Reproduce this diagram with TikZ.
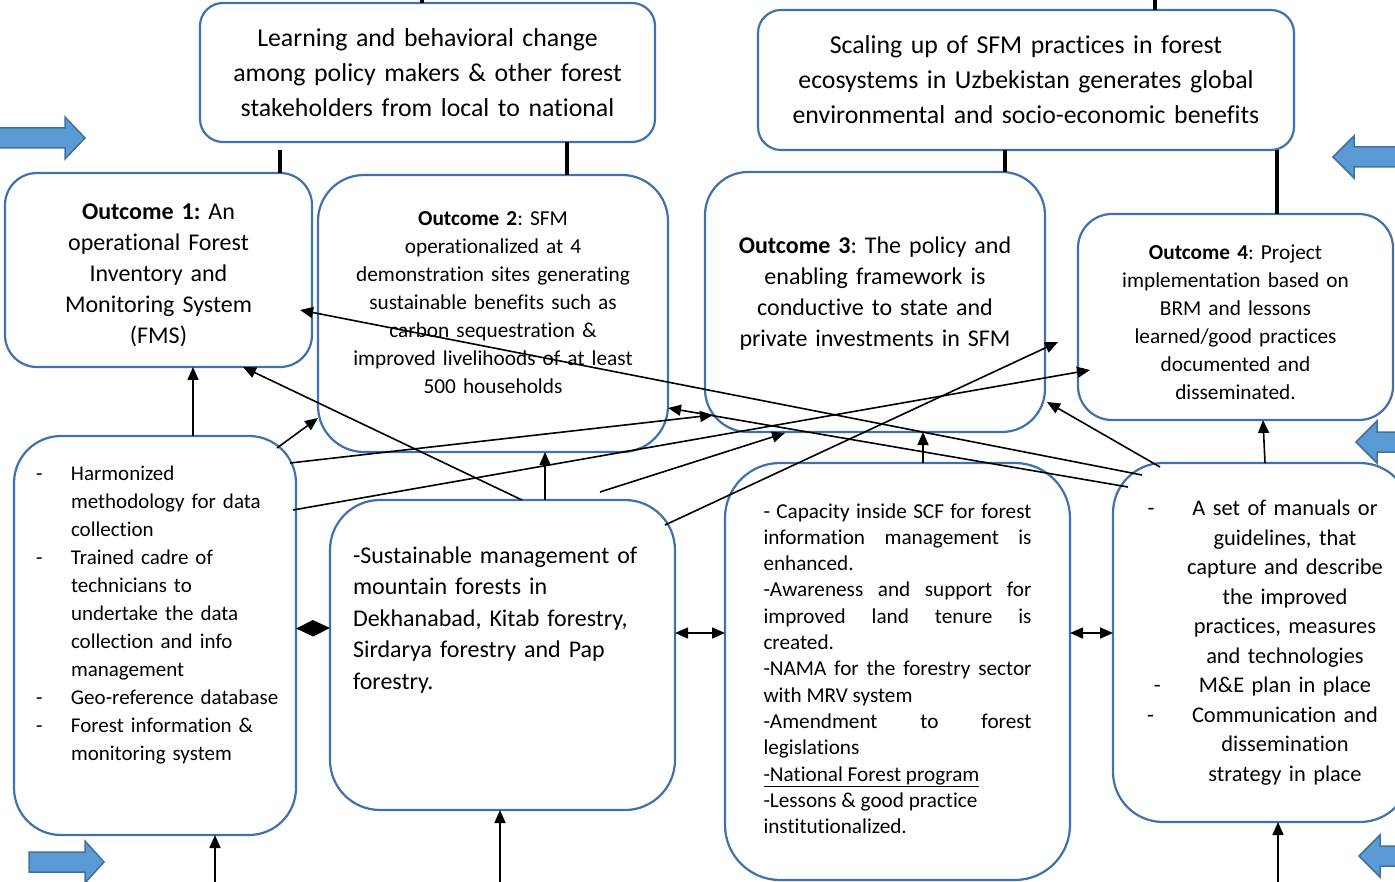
\documentclass[tikz,border=0pt]{standalone}
\usepackage{fontspec}
\setmainfont{Carlito}[Ligatures=NoCommon]
\usepackage{tikz}
\usetikzlibrary{arrows.meta,positioning,calc}
\definecolor{BoxBlue}{RGB}{65,113,170}
\definecolor{ArrowFill}{RGB}{91,155,213}
\definecolor{ArrowEdge}{RGB}{65,113,156}
\frenchspacing

\begin{document}
\begin{tikzpicture}[x=1pt,y=-1pt,
    box/.style={draw=BoxBlue, line width=2.2pt, fill=white, outer sep=0pt, inner sep=0pt},
    link/.style={line width=1.6pt, -{Triangle[length=13pt,width=11pt]}},
    both/.style={line width=1.6pt, {Triangle[length=13pt,width=11pt]}-{Triangle[length=13pt,width=11pt]}},
    tie/.style={line width=3.2pt},
    bigarrow/.style={fill=ArrowFill, draw=ArrowEdge, line width=1.5pt, line join=miter}]
\useasboundingbox (0,0) rectangle (1395,882);

    % impacts
    \node[box, rounded corners=23pt, minimum width=455pt, minimum height=139pt, text width=440pt,
        align=center, font=\fontsize{25.8}{35}\selectfont] (learn) at (427.5,72.5)
        {Learning and behavioral change\\among policy makers \& other forest\\stakeholders from local to national};
    \node[box, rounded corners=23pt, minimum width=536pt, minimum height=140pt, text width=520pt,
        align=center, font=\fontsize{25.8}{35}\selectfont] (scale) at (1026,80)
        {Scaling up of SFM practices in forest\\ecosystems in Uzbekistan generates global\\environmental and socio-economic benefits};

    % outcomes
    \node[box, rounded corners=32pt, minimum width=307pt, minimum height=194pt, text width=290pt,
        align=center, font=\fontsize{24}{31}\selectfont] (out1) at (158.5,270)
        {\rule{0pt}{26pt}\textbf{Outcome 1:} An\\operational Forest\\Inventory and\\Monitoring System\\(FMS)};
    \node[box, rounded corners=46pt, minimum width=350pt, minimum height=277pt, text width=330pt,
        align=center, font=\fontsize{21.3}{28}\selectfont] (out2) at (493,313.5)
        {\textbf{Outcome 2}: SFM\\operationalized at 4\\demonstration sites generating\\sustainable benefits such as\\carbon sequestration \&\\improved livelihoods of at least\\500 households\rule[-21pt]{0pt}{21pt}};
    \node[box, rounded corners=43pt, minimum width=340pt, minimum height=260pt, text width=320pt,
        align=center, font=\fontsize{24}{31}\selectfont] (out3) at (875,302)
        {\textbf{Outcome 3}: The policy and\\enabling framework is\\conductive to state and\\private investments in SFM\rule[-20pt]{0pt}{20pt}};
    \node[box, rounded corners=34pt, minimum width=315pt, minimum height=206pt, text width=300pt,
        align=center, font=\fontsize{21.3}{28}\selectfont] (out4) at (1235.5,317)
        {\rule{0pt}{26pt}\textbf{Outcome 4}: Project\\implementation based on\\BRM and lessons\\learned/good practices\\documented and\\disseminated.};

    % outputs
    \node[box, rounded corners=47pt, minimum width=282pt, minimum height=399pt, text width=258pt,
        align=left, font=\fontsize{21}{28}\selectfont] (box1) at (155,635.5)
        {\leftskip=10pt
        \hangindent=35pt\hangafter=1\makebox[35pt][l]{-}Harmonized\newline methodology for data\newline collection\par
        \hangindent=35pt\hangafter=1\makebox[35pt][l]{-}Trained cadre of\newline technicians to\newline undertake the data\newline collection and info\newline management\par
        \hangindent=35pt\hangafter=1\makebox[35pt][l]{-}Geo-reference database\par
        \hangindent=35pt\hangafter=1\makebox[35pt][l]{-}Forest information \&\newline monitoring system\rule[-44pt]{0pt}{44pt}\par};
    \node[box, rounded corners=50pt, minimum width=345pt, minimum height=310pt, text width=299pt,
        align=left, font=\fontsize{24}{31.5}\selectfont] (box2) at (502.5,655)
        {-Sustainable management of\\mountain forests in\\Dekhanabad, Kitab forestry,\\Sirdarya forestry and Pap\\forestry.\rule[-74pt]{0pt}{74pt}};
    \node[box, rounded corners=55pt, minimum width=345pt, minimum height=417pt, text width=268pt,
        align=justify, font=\fontsize{21.2}{26.3}\selectfont] (box3) at (897.5,671.5)
        {- Capacity inside SCF for forest\linebreak information management is\linebreak enhanced.\par
        -Awareness and support for\linebreak improved land tenure is\linebreak created.\par
        -NAMA for the forestry sector\linebreak with MRV system\par
        -Amendment to forest\linebreak legislations\par
        \underline{-National Forest program}\par
        -Lessons \& good practice\newline institutionalized.\rule[-6pt]{0pt}{6pt}\par};
    \node[box, rounded corners=50pt, minimum width=297pt, minimum height=359pt, text width=250pt,
        align=center, font=\fontsize{22.4}{29.5}\selectfont] (box4) at (1261.5,642.5)
        {\leftskip=47pt plus 1fil\rightskip=0pt plus 1fil\parfillskip=0pt
        \leavevmode\llap{-\hspace{38pt}}A set of manuals or\par guidelines, that\par capture and describe\par
        the improved\par practices, measures\par and technologies\par
        \leavevmode\llap{-\hspace{38pt}}M\&E plan in place\par
        \leavevmode\llap{-\hspace{38pt}}Communication and\par dissemination\par strategy in place\par};

    % block arrows at the margins
    \foreach \tx/\hx/\px/\cy in {-10/65/85/138, 29/85/104/862}
        \draw[bigarrow] (\tx,\cy-10) -- (\hx,\cy-10) -- (\hx,\cy-21) -- (\px,\cy)
            -- (\hx,\cy+21) -- (\hx,\cy+10) -- (\tx,\cy+10) -- cycle;
    \foreach \tx/\hx/\px/\cy in {1410/1354/1333/157, 1410/1377/1356/442, 1410/1380/1359/856}
        \draw[bigarrow] (\tx,\cy-10) -- (\hx,\cy-10) -- (\hx,\cy-21) -- (\px,\cy)
            -- (\hx,\cy+21) -- (\hx,\cy+10) -- (\tx,\cy+10) -- cycle;

    % ties to the impacts
    \coordinate (learnTop) at (422,-10);
    \coordinate (scaleTop) at (1155,-10);
    \draw[tie] ($(learn.north west)+(222,0)$) -- (learnTop);
    \draw[tie] ($(scale.north west)+(397,0)$) -- (scaleTop);
    \draw[tie] ($(learn.south west)+(80,8)$) -- ($(out1.north west)+(275,0)$);
    \draw[tie] ($(learn.south west)+(367,0)$) -- ($(out2.north west)+(249,0)$);
    \draw[tie] ($(scale.south west)+(247,0)$) -- ($(out3.north west)+(300,0)$);
    \draw[tie] ($(scale.south west)+(519,0)$) -- ($(out4.north west)+(199,0)$);

    % outputs to outcomes
    \draw[link] ($(box1.north west)+(179,0)$) -- ($(out1.south west)+(188,0)$);
    \draw[link] ($(box1.north east)+(-19,12)$) -- ($(out2.south west)+(0,-34)$);
    \draw[link] ($(box1.north east)+(-6,27)$) -- ($(out3.south west)+(8,-17)$);
    \draw[link] ($(box1.north east)+(-3,74)$) -- ($(out4.south west)+(12,-50)$);
    \draw[link] ($(box2.north west)+(192,0)$) -- ($(out1.south west)+(238,0)$);
    \draw[link] ($(box2.north west)+(215,0)$) -- ($(out2.south west)+(227,0)$);
    \draw[link] ($(box2.north west)+(270,-8)$) -- ($(out3.south west)+(80,1)$);
    \draw[link] ($(box2.north east)+(-10,25)$) -- ($(out3.south east)+(13,-90)$);
    \draw[link] ($(box3.north west)+(198,0)$) -- ($(out3.south west)+(218,0)$);
    \draw[link] ($(box4.north west)+(29,12)$) -- ($(out1.east)+(-12,40)$);
    \draw[link] ($(box4.north west)+(15,24)$) -- ($(out2.south east)+(0,-44)$);
    \draw[link] ($(box4.north west)+(47,4)$) -- ($(out3.south east)+(2,-30)$);
    \draw[link] ($(box4.north west)+(152,0)$) -- ($(out4.south west)+(185,0)$);

    % links between outputs
    \draw[both, {Triangle[length=17pt,width=16pt]}-{Triangle[length=17pt,width=16pt]}]
        ($(box1.east)+(0,-7)$) -- ($(box2.west)+(0,-27)$);
    \draw[both] ($(box2.east)+(0,-22)$) -- ($(box3.west)+(0,-38.5)$);
    \draw[both] ($(box3.east)+(0,-38.5)$) -- ($(box4.west)+(0,-9.5)$);

    % inputs from below
    \coordinate (in1) at (215,895);
    \coordinate (in2) at (500,895);
    \coordinate (in4) at (1278,895);
    \draw[link] (in1) -- (in1 |- box1.south);
    \draw[link] (in2) -- (in2 |- box2.south);
    \draw[link] (in4) -- (in4 |- box4.south);
\end{tikzpicture}
\end{document}
